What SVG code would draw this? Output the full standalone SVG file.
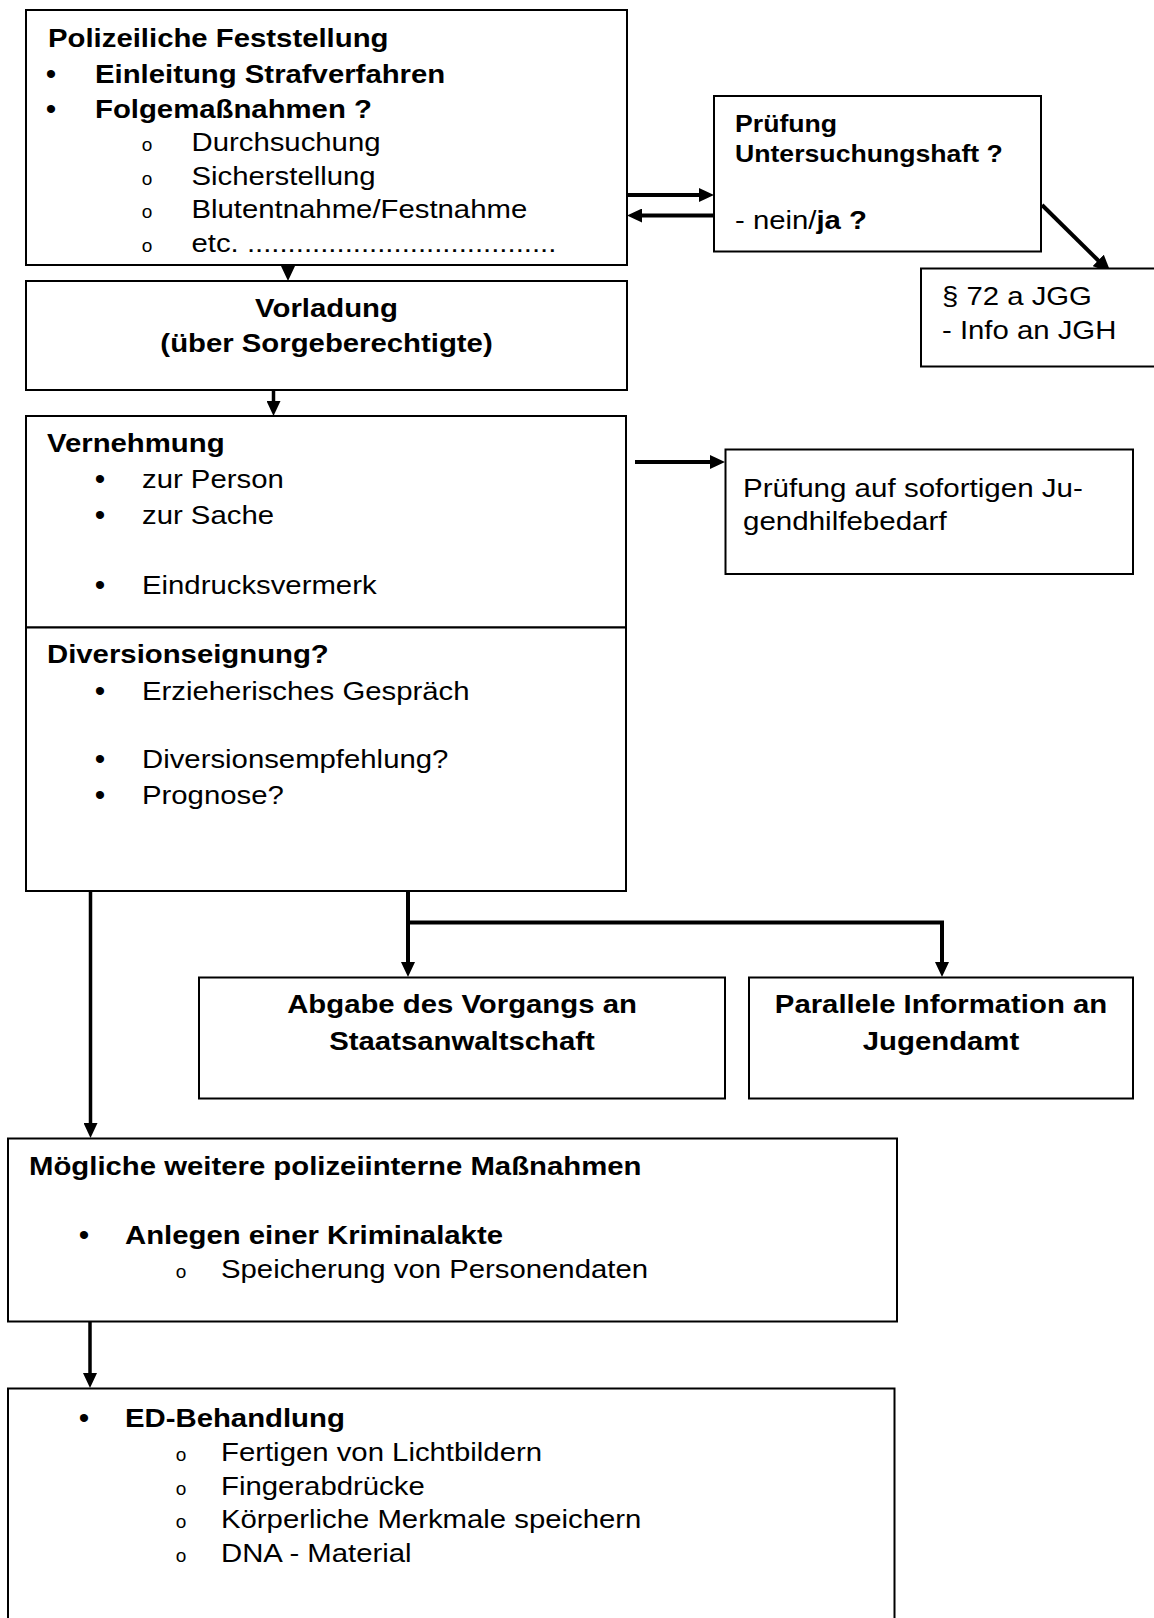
<svg xmlns="http://www.w3.org/2000/svg" width="1154" height="1618" viewBox="0 0 1154 1618">
<style>
.box{fill:#fff;stroke:#000;stroke-width:2}
.t{font-family:"Liberation Sans",Arial,sans-serif;font-size:26.3px;fill:#000}
.b{font-weight:bold}
.s11{font-size:23.9px}
.bu{font-family:"Liberation Sans",Arial,sans-serif;font-size:30px;fill:#000}
.o{font-family:"Liberation Sans",Arial,sans-serif;font-size:19px;fill:#000}
.c{text-anchor:middle}
.ln{fill:none;stroke:#000;stroke-width:3.5}
.lw{fill:none;stroke:#000;stroke-width:4}
</style>
<defs>
<marker id="ah" viewBox="0 0 15 14" markerWidth="15" markerHeight="14" markerUnits="userSpaceOnUse" refX="3" refY="7" orient="auto"><path d="M0,0 L15,7 L0,14 z" fill="#000"/></marker>
<marker id="ahL" viewBox="0 0 18 16" markerWidth="18" markerHeight="16" markerUnits="userSpaceOnUse" refX="3" refY="8" orient="auto"><path d="M0,0 L18,8 L0,16 z" fill="#000"/></marker>
</defs>
<rect width="1154" height="1618" fill="#fff"/>

<g id="connectors">
<line class="ln" x1="288" y1="265" x2="288" y2="269" marker-end="url(#ah)"/>
<line class="ln" x1="273.5" y1="390" x2="273.5" y2="404" marker-end="url(#ah)"/>
<line class="lw" x1="627" y1="195" x2="702" y2="195" marker-end="url(#ah)"/>
<line class="lw" x1="714" y1="215.5" x2="639" y2="215.5" marker-end="url(#ah)"/>
<line class="lw" x1="1042" y1="205" x2="1100.3" y2="262.5" stroke-width="5" marker-end="url(#ahL)"/>
<line class="lw" x1="635" y1="462" x2="713" y2="462" marker-end="url(#ah)"/>
<line class="ln" x1="90.5" y1="891" x2="90.5" y2="1126" marker-end="url(#ah)"/>
<line class="lw" x1="408" y1="891" x2="408" y2="965" marker-end="url(#ah)"/>
<polyline class="lw" points="408,922.5 942,922.5 942,965" marker-end="url(#ah)"/>
<line class="ln" x1="90" y1="1322" x2="90" y2="1376" marker-end="url(#ah)"/>
</g>

<g id="n-feststellung">
<rect class="box" x="26" y="10" width="601" height="255"/>
<text class="t b" transform="translate(48,47) scale(1.115,1)">Polizeiliche Feststellung</text>
<text class="bu" x="45.7" y="84">•</text>
<text class="t b" transform="translate(95,83) scale(1.115,1)">Einleitung Strafverfahren</text>
<text class="bu" x="45.7" y="119">•</text>
<text class="t b" transform="translate(95,118) scale(1.115,1)">Folgemaßnahmen ?</text>
<text class="o" x="141.7" y="150.5">o</text>
<text class="t" transform="translate(191.5,150.5) scale(1.115,1)">Durchsuchung</text>
<text class="o" x="141.7" y="184.5">o</text>
<text class="t" transform="translate(191.5,184.5) scale(1.115,1)">Sicherstellung</text>
<text class="o" x="141.7" y="218">o</text>
<text class="t" transform="translate(191.5,218) scale(1.115,1)">Blutentnahme/Festnahme</text>
<text class="o" x="141.7" y="252">o</text>
<text class="t" transform="translate(191.5,252) scale(1.115,1)">etc. ......................................</text>
</g>

<g id="n-untersuchungshaft">
<rect class="box" x="714" y="96" width="327" height="155.5"/>
<text class="t b s11" transform="translate(735,132) scale(1.115,1)">Prüfung</text>
<text class="t b s11" transform="translate(735,162) scale(1.115,1)">Untersuchungshaft ?</text>
<text class="t" transform="translate(735,229) scale(1.115,1)">- nein/<tspan class="b">ja ?</tspan></text>
</g>

<g id="n-jgg">
<rect class="box" x="921" y="268.5" width="250" height="98"/>
<text class="t" transform="translate(942,305) scale(1.115,1)">§ 72 a JGG</text>
<text class="t" transform="translate(942,339) scale(1.115,1)">- Info an JGH</text>
</g>

<g id="n-vorladung">
<rect class="box" x="26" y="281" width="601" height="109"/>
<text class="t b c" transform="translate(326.5,317) scale(1.115,1)">Vorladung</text>
<text class="t b c" transform="translate(326.5,352) scale(1.115,1)">(über Sorgeberechtigte)</text>
</g>

<g id="n-vernehmung">
<rect class="box" x="26" y="416" width="600" height="211.5"/>
<text class="t b" transform="translate(47,452) scale(1.115,1)">Vernehmung</text>
<text class="bu" x="94.7" y="489">•</text>
<text class="t" transform="translate(142,488) scale(1.115,1)">zur Person</text>
<text class="bu" x="94.7" y="525">•</text>
<text class="t" transform="translate(142,524) scale(1.115,1)">zur Sache</text>
<text class="bu" x="94.7" y="595">•</text>
<text class="t" transform="translate(142,594) scale(1.115,1)">Eindrucksvermerk</text>
</g>

<g id="n-jugendhilfe">
<rect class="box" x="725.5" y="449.5" width="407.5" height="124.5"/>
<text class="t" transform="translate(743,497) scale(1.115,1)" style="font-size:26.5px">Prüfung auf sofortigen Ju-</text>
<text class="t" transform="translate(743,530) scale(1.115,1)" style="font-size:26.5px">gendhilfebedarf</text>
</g>

<g id="n-diversion">
<rect class="box" x="26" y="627.5" width="600" height="263.5"/>
<text class="t b" transform="translate(47,663) scale(1.115,1)">Diversionseignung?</text>
<text class="bu" x="94.7" y="701">•</text>
<text class="t" transform="translate(142,700) scale(1.115,1)">Erzieherisches Gespräch</text>
<text class="bu" x="94.7" y="769">•</text>
<text class="t" transform="translate(142,768) scale(1.115,1)">Diversionsempfehlung?</text>
<text class="bu" x="94.7" y="805">•</text>
<text class="t" transform="translate(142,804) scale(1.115,1)">Prognose?</text>
</g>

<g id="n-staatsanwaltschaft">
<rect class="box" x="199" y="977.5" width="526" height="121"/>
<text class="t b c" transform="translate(462,1013) scale(1.115,1)">Abgabe des Vorgangs an</text>
<text class="t b c" transform="translate(462,1050) scale(1.115,1)">Staatsanwaltschaft</text>
</g>

<g id="n-jugendamt">
<rect class="box" x="749" y="977.5" width="384" height="121"/>
<text class="t b c" transform="translate(941,1013) scale(1.115,1)">Parallele Information an</text>
<text class="t b c" transform="translate(941,1050) scale(1.115,1)">Jugendamt</text>
</g>

<g id="n-massnahmen">
<rect class="box" x="8" y="1138.5" width="889" height="183"/>
<text class="t b" transform="translate(29,1175) scale(1.115,1)">Mögliche weitere polizeiinterne Maßnahmen</text>
<text class="bu" x="78.7" y="1245">•</text>
<text class="t b" transform="translate(125,1244) scale(1.115,1)">Anlegen einer Kriminalakte</text>
<text class="o" x="175.7" y="1278">o</text>
<text class="t" transform="translate(221,1278) scale(1.115,1)">Speicherung von Personendaten</text>
</g>

<g id="n-ed">
<rect class="box" x="8" y="1388.5" width="886.5" height="250"/>
<text class="bu" x="78.7" y="1428">•</text>
<text class="t b" transform="translate(125,1427) scale(1.115,1)">ED-Behandlung</text>
<text class="o" x="175.7" y="1461">o</text>
<text class="t" transform="translate(221,1461) scale(1.115,1)">Fertigen von Lichtbildern</text>
<text class="o" x="175.7" y="1495">o</text>
<text class="t" transform="translate(221,1495) scale(1.115,1)">Fingerabdrücke</text>
<text class="o" x="175.7" y="1528">o</text>
<text class="t" transform="translate(221,1528) scale(1.115,1)">Körperliche Merkmale speichern</text>
<text class="o" x="175.7" y="1562">o</text>
<text class="t" transform="translate(221,1562) scale(1.115,1)">DNA - Material</text>
</g>
</svg>
